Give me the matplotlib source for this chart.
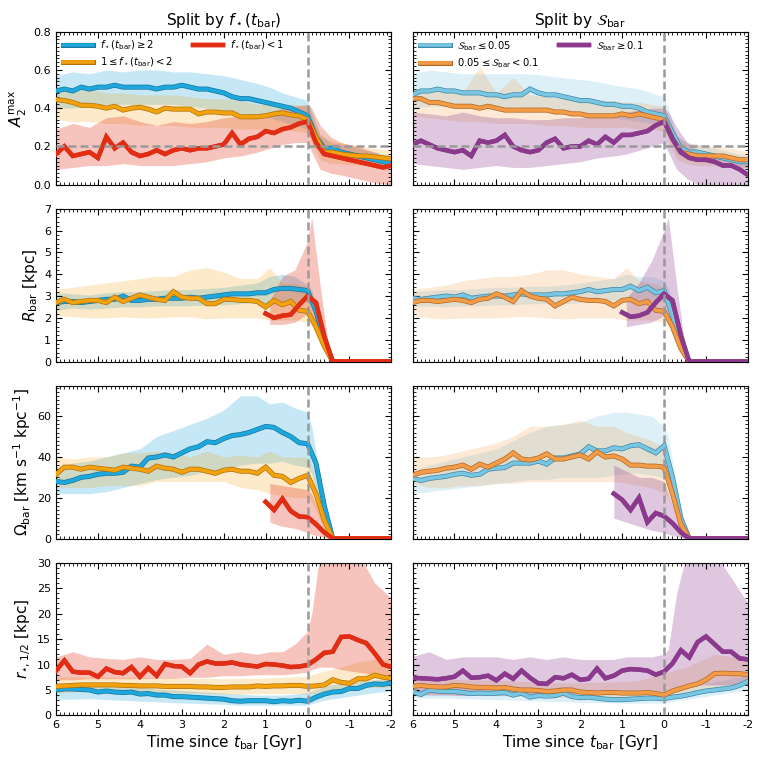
import numpy as np
import matplotlib
matplotlib.use("Agg")
import matplotlib.pyplot as plt
import matplotlib.patheffects as pe
from matplotlib.ticker import AutoMinorLocator

nan = np.nan

# time grid for the medians (Gyr since t_bar)
t = [6.0, 5.8, 5.6, 5.4, 5.2, 5.0, 4.8, 4.6, 4.4, 4.2, 4.0, 3.8, 3.6, 3.4, 3.2, 3.0, 2.8, 2.6, 2.4, 2.2,
     2.0, 1.8, 1.6, 1.4, 1.2, 1.0, 0.8, 0.6, 0.4, 0.2, 0.0, -0.2, -0.4, -0.6, -0.8, -1.0, -1.2, -1.4,
     -1.6, -1.8, -2.0]
# time grid for the 16-84 bands
tb = [6.0, 5.6, 5.2, 4.8, 4.4, 4.0, 3.6, 3.2, 2.8, 2.4, 2.0, 1.6, 1.2, 0.9, 0.6, 0.3, 0.0, -0.1, -0.3,
      -0.55, -0.8, -1.2, -1.6, -2.0]

# ---- A2max ----
A2_L_blue = [0.49, 0.50, 0.49, 0.51, 0.50, 0.51, 0.51, 0.52, 0.51, 0.51, 0.51, 0.51, 0.50, 0.51, 0.51, 0.52, 0.51, 0.50, 0.50, 0.49,
             0.48, 0.46, 0.45, 0.45, 0.44, 0.43, 0.42, 0.41, 0.40, 0.38, 0.36, 0.25, 0.19, 0.19, 0.17, 0.16, 0.15, 0.14, 0.13, 0.12, 0.11]
A2_L_orange = [0.445, 0.44, 0.43, 0.415, 0.415, 0.41, 0.40, 0.41, 0.39, 0.40, 0.405, 0.395, 0.38, 0.40, 0.395, 0.395, 0.395, 0.37, 0.38, 0.38,
               0.375, 0.375, 0.355, 0.355, 0.355, 0.36, 0.37, 0.375, 0.365, 0.36, 0.34, 0.25, 0.17, 0.17, 0.16, 0.155, 0.15, 0.15, 0.145, 0.14, 0.135]
A2_L_red = [0.16, 0.20, 0.15, 0.16, 0.17, 0.14, 0.25, 0.19, 0.22, 0.17, 0.15, 0.16, 0.18, 0.16, 0.18, 0.19, 0.18, 0.19, 0.19, 0.20,
            0.21, 0.27, 0.21, 0.24, 0.25, 0.28, 0.27, 0.29, 0.30, 0.32, 0.33, 0.22, 0.16, 0.15, 0.14, 0.13, 0.12, 0.11, 0.10, 0.09, 0.10]
A2_R_blue = [0.47, 0.49, 0.49, 0.50, 0.49, 0.49, 0.48, 0.48, 0.48, 0.47, 0.47, 0.46, 0.47, 0.47, 0.50, 0.48, 0.47, 0.47, 0.46, 0.45,
             0.44, 0.44, 0.43, 0.42, 0.42, 0.41, 0.41, 0.40, 0.38, 0.37, 0.36, 0.27, 0.19, 0.17, 0.17, 0.16, 0.15, 0.14, 0.13, 0.12, 0.12]
A2_R_orange = [0.45, 0.45, 0.43, 0.43, 0.42, 0.41, 0.41, 0.41, 0.40, 0.41, 0.40, 0.39, 0.39, 0.39, 0.39, 0.39, 0.39, 0.38, 0.38, 0.37,
               0.37, 0.36, 0.36, 0.36, 0.36, 0.37, 0.36, 0.37, 0.36, 0.35, 0.34, 0.24, 0.17, 0.16, 0.15, 0.15, 0.15, 0.15, 0.14, 0.13, 0.13]
A2_R_purple = [0.21, 0.23, 0.21, 0.19, 0.18, 0.17, 0.18, 0.15, 0.23, 0.22, 0.23, 0.26, 0.20, 0.18, 0.17, 0.18, 0.22, 0.24, 0.19, 0.20,
               0.20, 0.23, 0.21, 0.25, 0.22, 0.26, 0.26, 0.27, 0.28, 0.31, 0.33, 0.24, 0.17, 0.14, 0.13, 0.13, 0.12, 0.10, 0.10, 0.08, 0.05]
A2_L_blue_hi = [0.57, 0.59, 0.58, 0.60, 0.59, 0.60, 0.60, 0.59, 0.59, 0.58, 0.57, 0.55, 0.53, 0.51, 0.48, 0.46, 0.44, 0.38, 0.26, 0.22, 0.21, 0.19, 0.17, 0.15]
A2_L_blue_lo = [0.40, 0.40, 0.41, 0.42, 0.42, 0.42, 0.42, 0.42, 0.41, 0.40, 0.39, 0.37, 0.36, 0.35, 0.33, 0.31, 0.29, 0.24, 0.16, 0.14, 0.13, 0.11, 0.10, 0.08]
A2_L_orange_hi = [0.51, 0.50, 0.50, 0.48, 0.48, 0.47, 0.47, 0.47, 0.46, 0.45, 0.45, 0.44, 0.42, 0.42, 0.42, 0.42, 0.41, 0.36, 0.26, 0.23, 0.22, 0.20, 0.19, 0.18]
A2_L_orange_lo = [0.34, 0.33, 0.33, 0.32, 0.32, 0.31, 0.31, 0.31, 0.30, 0.30, 0.30, 0.29, 0.29, 0.29, 0.29, 0.28, 0.27, 0.22, 0.13, 0.11, 0.11, 0.10, 0.10, 0.09]
A2_L_red_hi = [0.29, 0.32, 0.30, 0.35, 0.36, 0.33, 0.31, 0.33, 0.32, 0.33, 0.35, 0.36, 0.37, 0.38, 0.40, 0.41, 0.42, 0.40, 0.31, 0.25, 0.22, 0.20, 0.17, 0.13]
A2_L_red_lo = [0.08, 0.09, 0.10, 0.10, 0.11, 0.10, 0.10, 0.10, 0.11, 0.12, 0.14, 0.15, 0.17, 0.19, 0.21, 0.22, 0.22, 0.17, 0.08, 0.06, 0.05, 0.03, 0.01, 0.0]
A2_R_blue_hi = [0.58, 0.60, 0.59, 0.58, 0.58, 0.58, 0.58, 0.58, 0.57, 0.56, 0.55, 0.54, 0.52, 0.51, 0.50, 0.48, 0.46, 0.40, 0.26, 0.22, 0.21, 0.19, 0.17, 0.15]
A2_R_blue_lo = [0.40, 0.41, 0.41, 0.41, 0.40, 0.40, 0.41, 0.40, 0.39, 0.38, 0.37, 0.36, 0.35, 0.34, 0.33, 0.32, 0.31, 0.26, 0.16, 0.13, 0.12, 0.11, 0.10, 0.09]
A2_R_orange_hi = [0.50, 0.50, 0.49, 0.48, 0.62, 0.48, 0.56, 0.47, 0.46, 0.45, 0.45, 0.44, 0.44, 0.43, 0.43, 0.42, 0.41, 0.36, 0.25, 0.22, 0.21, 0.20, 0.19, 0.17]
A2_R_orange_lo = [0.36, 0.35, 0.34, 0.33, 0.33, 0.32, 0.32, 0.32, 0.31, 0.31, 0.30, 0.30, 0.30, 0.30, 0.29, 0.29, 0.28, 0.23, 0.13, 0.11, 0.10, 0.10, 0.09, 0.09]
A2_R_purple_hi = [0.38, 0.37, 0.36, 0.38, 0.36, 0.35, 0.35, 0.34, 0.34, 0.35, 0.35, 0.36, 0.37, 0.38, 0.39, 0.40, 0.40, 0.38, 0.30, 0.22, 0.18, 0.16, 0.15, 0.14]
A2_R_purple_lo = [0.11, 0.10, 0.09, 0.08, 0.09, 0.10, 0.09, 0.09, 0.10, 0.11, 0.12, 0.14, 0.15, 0.16, 0.18, 0.20, 0.22, 0.17, 0.08, 0.03, 0.0, 0.0, 0.0, 0.0]

# ---- R_bar ----
R_L_blue = [2.70, 2.75, 2.75, 2.70, 2.75, 2.80, 2.85, 2.85, 3.00, 2.80, 2.80, 2.85, 2.85, 2.90, 2.90, 2.90, 2.95, 2.90, 2.95, 3.00,
            3.05, 3.10, 3.10, 3.10, 3.15, 3.15, 3.30, 3.35, 3.35, 3.30, 3.25, 2.30, 1.00, 0, 0, 0, 0, 0, 0, 0, 0]
R_L_orange = [2.70, 2.85, 2.70, 2.75, 2.80, 2.80, 2.70, 2.95, 2.75, 2.90, 3.05, 2.95, 2.85, 2.80, 3.20, 2.95, 2.90, 2.90, 2.65, 2.65,
              2.85, 2.85, 2.80, 2.80, 2.75, 2.50, 2.80, 2.60, 2.75, 2.35, 2.30, 1.60, 0.70, 0, 0, 0, 0, 0, 0, 0, 0]
R_L_red = [nan] * 25 + [2.20, 2.00, 2.10, 2.15, 2.60, 3.00, 2.70, 1.15, 0, 0, 0, 0, 0, 0, 0, 0]
R_R_blue = [2.90, 2.85, 2.90, 2.95, 3.00, 2.95, 3.05, 2.90, 2.95, 3.00, 3.00, 3.00, 3.05, 3.10, 3.05, 3.05, 3.05, 3.10, 3.10, 3.15,
            3.20, 3.30, 3.20, 3.25, 3.30, 3.30, 3.45, 3.25, 3.40, 3.15, 3.25, 2.10, 0.85, 0, 0, 0, 0, 0, 0, 0, 0]
R_R_orange = [2.70, 2.80, 2.80, 2.75, 2.80, 2.85, 2.80, 2.70, 2.85, 2.90, 3.10, 2.95, 2.75, 3.25, 3.00, 2.90, 2.85, 2.55, 2.75, 2.95,
              2.85, 2.80, 2.80, 2.75, 2.55, 2.80, 2.85, 2.65, 2.75, 2.35, 2.30, 1.60, 0.60, 0, 0, 0, 0, 0, 0, 0, 0]
R_R_purple = [nan] * 25 + [2.25, 2.05, 2.10, 2.25, 2.70, 3.10, 2.80, 1.20, 0, 0, 0, 0, 0, 0, 0, 0]
R_L_blue_hi = [3.15, 3.10, 3.05, 3.15, 3.20, 3.20, 3.25, 3.30, 3.30, 3.35, 3.40, 3.50, 3.60, 3.90, 4.00, 3.90, 3.50, 3.30, 1.80, 0, 0, 0, 0, 0]
R_L_blue_lo = [2.35, 2.45, 2.40, 2.45, 2.50, 2.50, 2.55, 2.55, 2.55, 2.60, 2.60, 2.65, 2.70, 2.60, 2.70, 2.70, 2.70, 2.50, 1.30, 0, 0, 0, 0, 0]
R_L_orange_hi = [3.30, 3.40, 3.50, 3.60, 3.70, 3.80, 3.90, 3.90, 4.20, 4.30, 4.10, 3.80, 3.80, 4.30, 3.60, 3.60, 3.40, 3.10, 1.60, 0, 0, 0, 0, 0]
R_L_orange_lo = [2.10, 2.05, 2.00, 2.00, 2.05, 2.00, 2.00, 2.05, 2.05, 1.95, 2.00, 2.00, 2.00, 1.90, 1.90, 1.90, 1.80, 1.60, 0.80, 0, 0, 0, 0, 0]
R_L_red_hi = [nan] * 13 + [2.8, 3.9, 4.2, 5.5, 6.6, 3.5, 0, 0, 0, 0, 0]
R_L_red_lo = [nan] * 13 + [1.7, 1.7, 1.8, 2.2, 2.0, 1.0, 0, 0, 0, 0, 0]
R_R_blue_hi = [3.20, 3.25, 3.30, 3.30, 3.35, 3.40, 3.40, 3.45, 3.45, 3.50, 3.60, 3.70, 3.80, 4.00, 3.90, 3.90, 3.70, 3.40, 1.90, 0, 0, 0, 0, 0]
R_R_blue_lo = [2.50, 2.55, 2.50, 2.55, 2.55, 2.60, 2.60, 2.65, 2.65, 2.65, 2.70, 2.75, 2.80, 2.80, 2.85, 2.80, 2.75, 2.50, 1.30, 0, 0, 0, 0, 0]
R_R_orange_hi = [3.30, 3.40, 3.50, 3.70, 3.80, 3.90, 3.90, 4.00, 4.20, 4.20, 4.00, 3.90, 3.80, 4.30, 3.70, 3.60, 3.40, 3.10, 1.60, 0, 0, 0, 0, 0]
R_R_orange_lo = [2.10, 2.00, 1.95, 2.00, 2.00, 2.00, 2.05, 2.05, 2.00, 1.95, 2.00, 2.00, 2.00, 1.90, 1.90, 1.90, 1.80, 1.60, 0.80, 0, 0, 0, 0, 0]
R_R_purple_hi = [nan] * 13 + [2.9, 3.6, 4.6, 6.0, 6.6, 3.5, 0, 0, 0, 0, 0]
R_R_purple_lo = [nan] * 13 + [1.6, 1.7, 1.8, 2.1, 2.0, 1.0, 0, 0, 0, 0, 0]

# ---- Omega_bar ----
Om_L_blue = [28, 27.5, 28.5, 30, 30.5, 31.5, 32, 32, 32.5, 35.5, 35, 39.5, 40, 41, 40, 42, 44, 45, 47.5, 47,
             49, 50.5, 51, 52, 53.5, 55, 54.5, 52, 50, 47, 46.5, 37, 16, 0, 0, 0, 0, 0, 0, 0, 0]
Om_L_orange = [31.5, 35, 35, 34, 35, 34.5, 34, 33.5, 35, 34.5, 34, 33, 35.5, 34.5, 34, 32.5, 34, 34, 33, 32,
               33.5, 34, 33, 33, 32, 35, 31, 30.5, 27.5, 29.5, 31, 22, 9, 0, 0, 0, 0, 0, 0, 0, 0]
Om_L_red = [nan] * 25 + [18, 14, 19.5, 13.5, 10.8, 10.5, 7, 3, 0, 0, 0, 0, 0, 0, 0, 0]
Om_R_blue = [29.5, 28.5, 29.5, 30, 30.5, 31.5, 32, 31, 31.5, 34, 34.5, 34.8, 37, 37, 37, 38, 36.5, 39.5, 39.5, 40.5,
             41.5, 45, 43, 43, 44.5, 44, 45.5, 46, 44, 42, 45.5, 30, 10, 0, 0, 0, 0, 0, 0, 0, 0]
Om_R_orange = [31, 32.5, 33, 33.5, 34.5, 35, 36, 34, 36.5, 35, 37, 39, 42, 39, 38.5, 39.5, 41.5, 39, 39, 40,
               41, 39, 42.5, 40, 40.5, 39, 36, 36, 35.5, 35.5, 35, 22, 7, 0, 0, 0, 0, 0, 0, 0, 0]
Om_R_purple = [nan] * 24 + [22, 19, 14, 20, 8, 12.5, 11, 7.5, 3, 0, 0, 0, 0, 0, 0, 0, 0]
Om_L_blue_hi = [35, 37, 38, 40, 42, 44, 50, 53, 56, 59, 63, 70, 70, 66, 67, 64, 62, 55, 30, 0, 0, 0, 0, 0]
Om_L_blue_lo = [22, 22, 22, 23, 25, 27, 29, 30, 31, 33, 34, 36, 37, 37, 38, 36, 35, 32, 16, 0, 0, 0, 0, 0]
Om_L_orange_hi = [40, 39, 40, 40, 42, 42, 43, 42, 40, 43, 40, 41, 40, 43, 40, 40, 40, 36, 18, 0, 0, 0, 0, 0]
Om_L_orange_lo = [25, 25, 25, 26, 26, 26, 28, 28, 28, 28, 28, 25, 24, 22, 21, 20, 20, 18, 9, 0, 0, 0, 0, 0]
Om_L_red_hi = [nan] * 13 + [27, 26, 25, 24, 22, 12, 0, 0, 0, 0, 0]
Om_L_red_lo = [nan] * 13 + [8, 6, 5, 3, 2, 1, 0, 0, 0, 0, 0]
Om_R_blue_hi = [33, 36, 38, 40, 42, 44, 48, 52, 55, 56, 57, 60, 62, 62, 61, 60, 55, 50, 25, 0, 0, 0, 0, 0]
Om_R_blue_lo = [22, 23, 24, 25, 26, 27, 28, 29, 29, 30, 30, 30, 31, 32, 32, 31, 30, 28, 14, 0, 0, 0, 0, 0]
Om_R_orange_hi = [40, 40, 41, 43, 45, 47, 50, 55, 55, 56, 58, 55, 55, 52, 50, 48, 45, 40, 20, 0, 0, 0, 0, 0]
Om_R_orange_lo = [27, 25, 25, 26, 26, 27, 27, 28, 28, 28, 28, 28, 28, 27, 26, 25, 22, 20, 10, 0, 0, 0, 0, 0]
Om_R_purple_hi = [nan] * 12 + [36, 33, 30, 30, 28, 22, 10, 0, 0, 0, 0, 0]
Om_R_purple_lo = [nan] * 12 + [10, 8, 6, 4, 3, 2, 1, 0, 0, 0, 0, 0]

# ---- r_half ----
rh_L_blue = [5.0, 5.2, 5.2, 5.1, 5.0, 4.6, 4.8, 4.6, 4.5, 4.6, 4.2, 4.3, 4.0, 4.0, 3.7, 3.7, 3.6, 3.5, 3.4, 3.3,
             3.2, 2.9, 2.8, 2.9, 2.9, 2.9, 2.7, 2.9, 2.8, 3.0, 2.8, 3.6, 4.2, 4.6, 4.7, 5.3, 5.3, 5.9, 6.2, 6.1, 6.4]
rh_L_orange = [5.7, 5.8, 5.9, 6.0, 6.0, 6.0, 6.0, 6.0, 5.9, 5.9, 5.8, 5.8, 5.8, 5.7, 5.7, 5.7, 5.7, 5.6, 5.6, 5.5,
               5.5, 5.6, 5.6, 5.6, 5.8, 5.7, 5.8, 5.8, 5.9, 5.9, 5.7, 5.8, 6.0, 7.0, 6.5, 6.3, 7.2, 7.2, 7.9, 7.5, 7.3]
rh_L_red = [8.8, 10.8, 8.6, 8.4, 8.4, 7.6, 9.2, 8.5, 8.3, 9.5, 7.6, 9.3, 7.8, 10.1, 9.7, 9.6, 8.3, 10.0, 10.6, 10.2,
            10.2, 10.4, 10.0, 9.8, 9.6, 10.1, 10.0, 9.8, 9.5, 9.6, 9.9, 11.0, 12.3, 12.5, 15.4, 15.5, 14.8, 14.2, 12.2, 10.0, 9.5]
rh_R_blue = [4.7, 4.1, 5.0, 4.8, 4.7, 4.7, 4.5, 4.3, 4.4, 4.3, 4.4, 4.5, 4.0, 4.4, 3.6, 3.9, 3.8, 3.9, 4.4, 3.7,
             3.5, 3.6, 3.4, 3.2, 3.1, 3.1, 3.2, 3.3, 3.4, 3.4, 3.3, 3.6, 3.8, 4.1, 4.5, 4.8, 5.0, 5.2, 5.4, 5.9, 6.7]
rh_R_orange = [5.7, 5.9, 5.7, 5.6, 5.6, 5.9, 5.8, 5.6, 5.5, 5.5, 5.4, 5.5, 5.2, 5.0, 5.0, 4.9, 4.7, 4.8, 5.0, 5.0,
               4.6, 4.5, 4.4, 4.5, 4.5, 4.4, 4.4, 4.4, 4.5, 4.3, 4.0, 4.8, 5.3, 5.8, 6.2, 7.0, 8.2, 8.3, 8.2, 8.2, 8.0]
rh_R_purple = [7.4, 7.3, 7.2, 7.1, 7.3, 7.6, 8.8, 7.4, 7.5, 7.8, 6.9, 8.2, 7.2, 8.8, 7.4, 6.3, 6.2, 7.5, 7.3, 8.0,
               7.0, 7.2, 9.2, 7.3, 7.8, 8.8, 9.1, 9.0, 8.8, 8.0, 8.6, 10.2, 12.8, 11.4, 14.4, 15.5, 14.0, 12.5, 12.5, 11.2, 11.0]
rh_L_blue_hi = [6.5, 6.2, 6.0, 5.8, 5.6, 5.5, 5.2, 5.0, 4.8, 4.6, 4.4, 4.2, 4.0, 4.0, 4.0, 4.2, 4.5, 4.8, 5.4, 6.0, 6.3, 6.8, 7.0, 7.2]
rh_L_blue_lo = [3.2, 3.2, 3.3, 3.1, 3.0, 2.8, 2.7, 2.5, 2.4, 2.3, 2.2, 2.0, 2.0, 2.0, 2.0, 2.0, 2.0, 2.3, 2.8, 3.2, 3.5, 4.0, 4.5, 4.8]
rh_L_orange_hi = [7.5, 7.6, 7.5, 7.6, 7.5, 7.5, 7.4, 7.4, 7.3, 7.3, 7.2, 7.3, 7.3, 7.4, 7.5, 7.6, 7.7, 8.0, 8.5, 9.0, 9.5, 10.5, 11.0, 11.0]
rh_L_orange_lo = [4.5, 4.6, 4.7, 4.7, 4.6, 4.5, 4.5, 4.4, 4.4, 4.3, 4.2, 4.2, 4.3, 4.3, 4.3, 4.3, 4.2, 4.3, 4.5, 5.0, 5.3, 5.5, 5.5, 5.5]
rh_L_red_hi = [11.5, 12.5, 11.5, 11.2, 11.0, 11.5, 11.0, 11.0, 11.2, 14.0, 12.0, 12.5, 12.0, 12.5, 12.5, 14.0, 16.5, 20.0, 32, 32, 32, 32, 26, 23]
rh_L_red_lo = [7.0, 7.0, 7.2, 7.2, 7.2, 7.2, 7.3, 7.3, 7.5, 7.5, 7.8, 7.8, 8.0, 8.0, 8.0, 8.2, 8.5, 9.0, 9.5, 9.5, 9.0, 8.5, 8.0, 7.5]
rh_R_blue_hi = [6.3, 6.0, 5.8, 5.6, 5.5, 5.4, 5.3, 5.2, 5.0, 5.0, 4.8, 4.7, 4.6, 4.5, 4.5, 4.6, 4.7, 4.9, 5.2, 5.6, 6.0, 6.6, 7.2, 7.8]
rh_R_blue_lo = [3.5, 3.4, 3.4, 3.3, 3.2, 3.1, 3.0, 2.9, 2.8, 2.7, 2.6, 2.5, 2.5, 2.4, 2.4, 2.4, 2.4, 2.6, 2.9, 3.2, 3.5, 4.0, 4.5, 5.0]
rh_R_orange_hi = [7.0, 7.0, 7.2, 7.0, 7.0, 6.9, 6.8, 6.6, 6.5, 6.4, 6.4, 6.5, 6.6, 6.7, 6.9, 7.5, 8.3, 8.5, 9.0, 9.5, 10.5, 12.0, 11.5, 11.0]
rh_R_orange_lo = [4.2, 4.2, 4.1, 4.0, 3.9, 3.9, 3.8, 3.7, 3.6, 3.5, 3.4, 3.4, 3.3, 3.3, 3.3, 3.3, 3.2, 3.4, 3.8, 4.3, 4.8, 5.5, 6.0, 6.2]
rh_R_purple_hi = [11.6, 12.5, 11.0, 11.5, 11.5, 11.5, 11.0, 11.5, 11.0, 11.5, 11.0, 11.0, 11.0, 11.5, 11.5, 11.5, 12.0, 13.0, 24.0, 32, 32, 32, 27, 22]
rh_R_purple_lo = [4.0, 4.0, 4.0, 3.9, 4.0, 4.0, 4.0, 4.0, 4.0, 4.2, 4.3, 4.4, 4.5, 4.6, 4.6, 4.6, 4.7, 4.8, 5.0, 5.5, 6.0, 6.0, 6.0, 6.0]

left_labels = [r'$f_\star(t_{\rm bar}) \geq 2$', r'$1 \leq f_\star(t_{\rm bar}) < 2$', r'$f_\star(t_{\rm bar}) < 1$']
right_labels = [r'$\mathcal{S}_{\rm bar} \leq 0.05$', r'$0.05 \leq \mathcal{S}_{\rm bar} < 0.1$', r'$\mathcal{S}_{\rm bar} \geq 0.1$']
xtick_vals = [6, 5, 4, 3, 2, 1, 0, -1, -2]
xtick_labels = ['6', '5', '4', '3', '2', '1', '0', '-1', '-2']

# colours: (line, edge)
left_cols = [('#1ea7dc', '#17769c'), ('#f2a20f', '#b0700a'), ('#e22d15', '#e22d15')]
right_cols = [('#78c6e2', '#3b86a6'), ('#f29c47', '#b06525'), ('#8b398d', '#8b398d')]

rows = [
    dict(ylabel=r'$A_2^{\rm max}$', ylim=(0, 0.8), yticks=[0, 0.2, 0.4, 0.6, 0.8], minor=10,
         L=[(A2_L_blue, A2_L_blue_lo, A2_L_blue_hi), (A2_L_orange, A2_L_orange_lo, A2_L_orange_hi), (A2_L_red, A2_L_red_lo, A2_L_red_hi)],
         R=[(A2_R_blue, A2_R_blue_lo, A2_R_blue_hi), (A2_R_orange, A2_R_orange_lo, A2_R_orange_hi), (A2_R_purple, A2_R_purple_lo, A2_R_purple_hi)]),
    dict(ylabel=r'$R_{\rm bar}$ [kpc]', ylim=(0, 7), yticks=[0, 1, 2, 3, 4, 5, 6, 7], minor=5,
         L=[(R_L_blue, R_L_blue_lo, R_L_blue_hi), (R_L_orange, R_L_orange_lo, R_L_orange_hi), (R_L_red, R_L_red_lo, R_L_red_hi)],
         R=[(R_R_blue, R_R_blue_lo, R_R_blue_hi), (R_R_orange, R_R_orange_lo, R_R_orange_hi), (R_R_purple, R_R_purple_lo, R_R_purple_hi)]),
    dict(ylabel=r'$\Omega_{\rm bar}$ [km s$^{-1}$ kpc$^{-1}$]', ylim=(0, 75), yticks=[0, 20, 40, 60], minor=10,
         L=[(Om_L_blue, Om_L_blue_lo, Om_L_blue_hi), (Om_L_orange, Om_L_orange_lo, Om_L_orange_hi), (Om_L_red, Om_L_red_lo, Om_L_red_hi)],
         R=[(Om_R_blue, Om_R_blue_lo, Om_R_blue_hi), (Om_R_orange, Om_R_orange_lo, Om_R_orange_hi), (Om_R_purple, Om_R_purple_lo, Om_R_purple_hi)]),
    dict(ylabel=r'$r_{\star,1/2}$ [kpc]', ylim=(0, 30), yticks=[0, 5, 10, 15, 20, 25, 30], minor=5,
         L=[(rh_L_blue, rh_L_blue_lo, rh_L_blue_hi), (rh_L_orange, rh_L_orange_lo, rh_L_orange_hi), (rh_L_red, rh_L_red_lo, rh_L_red_hi)],
         R=[(rh_R_blue, rh_R_blue_lo, rh_R_blue_hi), (rh_R_orange, rh_R_orange_lo, rh_R_orange_hi), (rh_R_purple, rh_R_purple_lo, rh_R_purple_hi)]),
]

fig, axes = plt.subplots(4, 2, figsize=(7.64, 7.64), dpi=100)
fig.subplots_adjust(left=0.0733, right=0.979, bottom=0.0635, top=0.9585, wspace=0.063, hspace=0.157)

band_alpha = [0.25, 0.22, 0.28]
line_w = [2.6, 2.6, 3.2]
edge_w = [3.6, 3.6, 3.2]
for r, row in enumerate(rows):
    for c, side in enumerate(['L', 'R']):
        ax = axes[r, c]
        cols = left_cols if c == 0 else right_cols
        labels = left_labels if c == 0 else right_labels
        for k, (med, lo, hi) in enumerate(row[side]):
            ax.fill_between(tb, lo, hi, color=cols[k][0], alpha=band_alpha[k], lw=0, zorder=1)
        for k, (med, lo, hi) in enumerate(row[side]):
            ax.plot(t, med, color=cols[k][0], lw=line_w[k], label=labels[k], zorder=3 + k,
                    solid_joinstyle='miter',
                    path_effects=[pe.Stroke(linewidth=edge_w[k], foreground=cols[k][1]), pe.Normal()])
        ax.axvline(0, color='#999999', lw=1.8, dashes=(3.2, 1.6), zorder=6)
        if r == 0:
            ax.axhline(0.2, color='#999999', lw=1.8, dashes=(3.2, 1.6), zorder=6)
        ax.set_xlim(6, -2)
        ax.set_ylim(*row['ylim'])
        ax.set_yticks(row['yticks'])
        ax.set_xticks(xtick_vals)
        ax.xaxis.set_minor_locator(AutoMinorLocator(10))
        ax.yaxis.set_minor_locator(AutoMinorLocator(row['minor']))
        ax.tick_params(which='both', direction='in', top=True, right=True, labelsize=8)
        ax.tick_params(which='major', length=4, width=0.8)
        ax.tick_params(which='minor', length=2, width=0.6)
        if r == 3:
            ax.set_xticklabels(xtick_labels)
            ax.set_xlabel(r'Time since $t_{\rm bar}$ [Gyr]', fontsize=11, labelpad=2)
        else:
            ax.set_xticklabels([])
        if c == 0:
            ax.set_ylabel(row['ylabel'], fontsize=11, labelpad=3)
        else:
            ax.set_yticklabels([])
        if r == 0:
            ax.legend(loc='upper left', ncol=2, frameon=False, fontsize=7.2, handlelength=3.0,
                      handletextpad=0.7, columnspacing=2.0, borderaxespad=0.3, labelspacing=0.35)

axes[0, 0].set_title(r'Split by $f_\star(t_{\rm bar})$', fontsize=11, pad=5)
axes[0, 1].set_title(r'Split by $\mathcal{S}_{\rm bar}$', fontsize=11, pad=5)

fig.savefig('out.png', dpi=100)
